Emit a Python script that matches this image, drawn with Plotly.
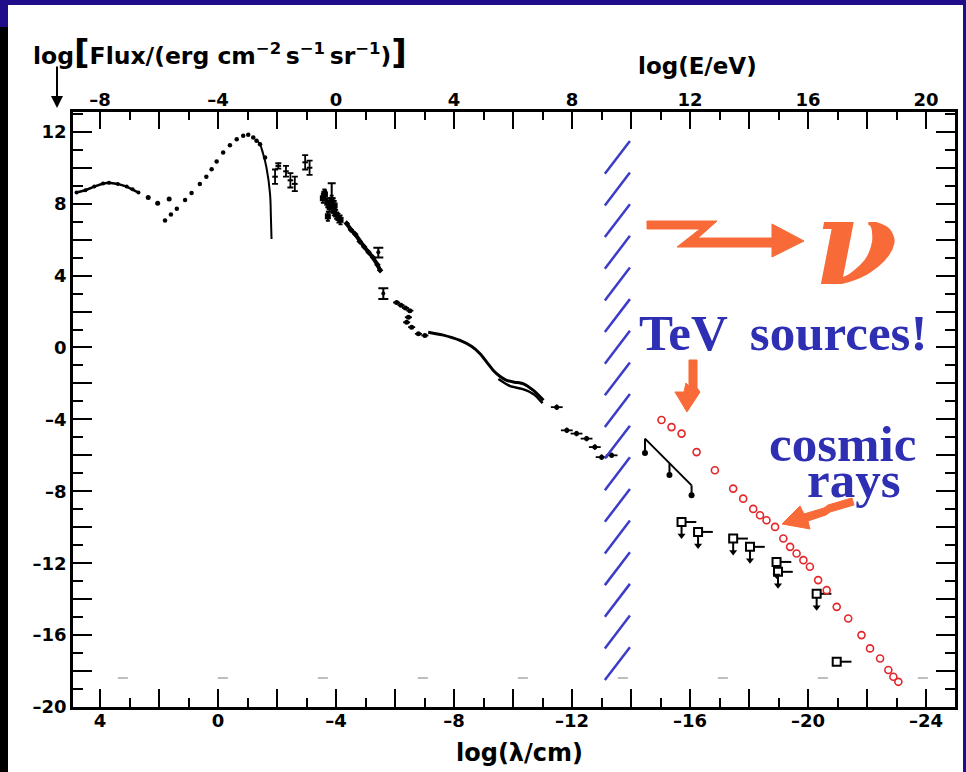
import plotly.graph_objects as go

# ---------------- data ----------------
# axis ticks
lam_major = list(range(4, -25, -2))
lam_minor = list(range(3, -24, -2))
e_major = list(range(-8, 21, 2))
e_minor = list(range(-7, 20, 2))
y_major = list(range(-20, 13, 2))
y_minor = list(range(-19, 14, 2))

# radio background
radio_lam = [4.80, 4.50, 4.20, 3.90, 3.70, 3.40, 3.10, 2.90, 2.70]
radio_y = [8.62, 8.75, 8.95, 9.12, 9.17, 9.10, 8.95, 8.80, 8.62]
radio_dot_lam = [2.37, 2.05, 1.66]
radio_dot_y = [8.35, 8.02, 8.26]

# microwave background (points + Wien tail)
cmb_lam = [1.80, 1.60, 1.40, 1.12, 0.90, 0.62, 0.40, 0.22, 0.05, -0.17, -0.40,
           -0.63, -0.85, -1.02, -1.19, -1.30, -1.42, -1.59]
cmb_y = [7.06, 7.40, 7.72, 8.20, 8.60, 9.10, 9.50, 9.92, 10.35, 10.85, 11.25,
         11.59, 11.78, 11.83, 11.68, 11.50, 11.31, 10.57]
wien_lam = [-1.30, -1.42, -1.52, -1.64, -1.76, -1.79, -1.81]
wien_y = [11.55, 11.30, 10.80, 10.00, 8.54, 7.20, 6.03]

# infrared points
ir_lam = [-1.93, -2.04, -2.30, -2.45, -2.60, -2.95, -3.10]
ir_y = [9.50, 10.10, 9.80, 9.30, 9.10, 10.30, 10.00]
ir_err = [0.40, 0.15, 0.30, 0.40, 0.40, 0.40, 0.40]

# optical cluster
opt_lam = [-3.55, -3.62, -3.70, -3.78, -3.85, -3.92, -4.00, -4.08, -4.15, -3.72, -3.95, -3.60]
opt_y = [8.30, 8.50, 8.05, 7.80, 8.20, 7.60, 7.40, 7.20, 7.10, 7.30, 7.90, 8.55]
opt_ul_lam = [-3.85]
opt_ul_y = [8.30]
opt_ul_err = [0.83]

# UV band
uv_lam = [-4.36, -4.50, -4.65, -4.80, -4.95, -5.10, -5.25, -5.40, -5.49]
uv_y = [6.90, 6.55, 6.30, 5.90, 5.60, 5.30, 5.00, 4.60, 4.30]
uv_ul_lam = [-5.43, -5.60]
uv_ul_y = [5.30, 3.00]

# soft X-ray
sx_lam = [-6.05, -6.20, -6.35, -6.50, -6.45, -6.39, -6.56, -6.79, -7.01]
sx_y = [2.50, 2.35, 2.20, 2.05, 1.68, 1.40, 1.13, 0.76, 0.67]

# X-ray band
xr_lam = [-7.12, -7.60, -8.20, -8.60, -8.88, -9.10, -9.33, -9.55, -9.78,
          -10.05, -10.35, -10.69, -11.03]
xr_y = [0.85, 0.70, 0.39, 0.05, -0.35, -0.80, -1.28, -1.60, -1.83,
        -1.93, -2.02, -2.39, -2.94]
xr2_lam = [-9.50, -9.90, -10.30, -10.70, -11.00]
xr2_y = [-1.75, -2.15, -2.30, -2.60, -3.10]

# gamma rays below the hatch
g_lam = [-11.48, -11.82, -12.15, -12.49, -12.77, -13.00, -13.34]
g_y = [-3.32, -4.61, -4.79, -5.07, -5.54, -6.10, -6.00]

# high-energy gamma line with limits
hg_lam = [-14.47, -15.30, -16.05]
hg_y = [-5.07, -6.45, -7.67]
hg_drop = [0.80, 0.65, 0.55]

# upper limits (squares)
ul_lam = [-15.71, -16.27, -17.46, -18.03, -18.93, -18.98, -20.29, -20.97]
ul_y = [-9.71, -10.26, -10.63, -11.09, -11.93, -12.48, -13.70, -17.48]
ul_drop = [0.75, 0.75, 0.75, 0.75, 0.75, 0.75, 0.75, 0.0]

# cosmic rays
cr_lam = [-15.03, -15.37, -15.71, -16.22, -16.84, -17.46, -17.80, -18.14, -18.37,
          -18.59, -18.88, -19.16, -19.39, -19.61, -19.84, -20.06, -20.34, -20.63,
          -20.97, -21.36, -21.81, -22.10, -22.44, -22.72, -22.89, -23.06]
cr_y = [-4.03, -4.43, -4.79, -5.82, -6.83, -7.85, -8.41, -8.98, -9.33,
        -9.61, -9.98, -10.63, -11.09, -11.46, -11.83, -12.20, -12.94, -13.50,
        -14.43, -15.08, -16.00, -16.74, -17.30, -17.94, -18.32, -18.60]

# hatch (opacity limit of the universe)
hatch_lam = [-13.11, -13.96]
hatch_base_y = [-18.5 + 1.76 * i for i in range(17)]
hatch_rise = 1.83

# sensitivity level (dashed)
sens_lam = [3.4, -24.98]
sens_y = -18.39

# ---------------- figure ----------------
W, H = 966, 772
ML, MR, MT, MB = 73, 11, 112, 65
PW, PH = W - ML - MR, H - MT - MB


def px(xp):
    return (xp - ML) / PW


def py(yp):
    return (H - MB - yp) / PH


BLACK = "black"
RED = "#e3262a"
ORANGE = "#f86a38"
BLUE = "#2f2fb4"
HATCH = "#3c3cc8"
NAVY = "#1f0d8a"


def lab(v):
    return str(v).replace("-", "\u2013") if v % 4 == 0 else ""


fig = go.Figure()

dot = dict(color=BLACK, size=4)

fig.add_trace(go.Scatter(x=radio_lam, y=radio_y, mode="lines+markers",
                         line=dict(color=BLACK, width=2.5), marker=dot))
fig.add_trace(go.Scatter(x=radio_dot_lam, y=radio_dot_y, mode="markers",
                         marker=dict(color=BLACK, size=5)))
fig.add_trace(go.Scatter(x=cmb_lam, y=cmb_y, mode="markers",
                         marker=dict(color=BLACK, size=4.5)))
fig.add_trace(go.Scatter(x=wien_lam, y=wien_y, mode="lines",
                         line=dict(color=BLACK, width=2, shape="spline")))
fig.add_trace(go.Scatter(x=ir_lam, y=ir_y, mode="markers",
                         marker=dict(color=BLACK, size=4, symbol="line-ew-open",
                                     line=dict(width=2, color=BLACK)),
                         error_y=dict(type="data", array=ir_err, color=BLACK,
                                      thickness=1.8, width=3)))
fig.add_trace(go.Scatter(x=opt_lam, y=opt_y, mode="markers",
                         marker=dict(color=BLACK, size=6, symbol="square"),
                         error_y=dict(type="data", array=[0.25] * len(opt_lam),
                                      color=BLACK, thickness=1.8, width=2)))
fig.add_trace(go.Scatter(x=opt_ul_lam, y=opt_ul_y, mode="markers",
                         marker=dict(color=BLACK, size=3),
                         error_y=dict(type="data", array=opt_ul_err, arrayminus=[0],
                                      symmetric=False, color=BLACK, thickness=2, width=4)))
fig.add_trace(go.Scatter(x=uv_lam, y=uv_y, mode="lines+markers",
                         line=dict(color=BLACK, width=4),
                         marker=dict(color=BLACK, size=5, symbol="diamond")))
fig.add_trace(go.Scatter(x=uv_ul_lam, y=uv_ul_y, mode="markers",
                         marker=dict(color=BLACK, size=4),
                         error_y=dict(type="data", array=[0.25, 0.3], arrayminus=[0.3, 0.3],
                                      symmetric=False, color=BLACK, thickness=2, width=5)))
fig.add_trace(go.Scatter(x=sx_lam, y=sx_y, mode="markers",
                         marker=dict(color=BLACK, size=5),
                         error_x=dict(type="data", array=[0.12] * len(sx_lam),
                                      color=BLACK, thickness=1.8, width=0)))
fig.add_trace(go.Scatter(x=xr_lam, y=xr_y, mode="lines",
                         line=dict(color=BLACK, width=3, shape="spline", smoothing=0.6)))
fig.add_trace(go.Scatter(x=xr2_lam, y=xr2_y, mode="lines",
                         line=dict(color=BLACK, width=2.5, shape="spline", smoothing=0.6)))
fig.add_trace(go.Scatter(x=g_lam, y=g_y, mode="markers",
                         marker=dict(color=BLACK, size=5),
                         error_x=dict(type="data", array=[0.2] * len(g_lam),
                                      color=BLACK, thickness=1.8, width=0),
                         error_y=dict(type="data", array=[0.15] * len(g_lam),
                                      color=BLACK, thickness=1.8, width=0)))
fig.add_trace(go.Scatter(x=hg_lam, y=hg_y, mode="lines",
                         line=dict(color=BLACK, width=2),
                         error_y=dict(type="data", array=[0] * 3, arrayminus=hg_drop,
                                      symmetric=False, color=BLACK, thickness=2, width=0)))
fig.add_trace(go.Scatter(x=hg_lam, y=[v - d for v, d in zip(hg_y, hg_drop)], mode="markers",
                         marker=dict(color=BLACK, size=6)))
fig.add_trace(go.Scatter(x=ul_lam, y=ul_y, mode="markers",
                         marker=dict(color="white", size=8, symbol="square",
                                     line=dict(color=BLACK, width=2)),
                         error_x=dict(type="data", array=[0] * len(ul_lam),
                                      arrayminus=[0.5] * len(ul_lam), symmetric=False,
                                      color=BLACK, thickness=2, width=0),
                         error_y=dict(type="data", array=[0] * len(ul_lam),
                                      arrayminus=ul_drop, symmetric=False,
                                      color=BLACK, thickness=2, width=0)))
fig.add_trace(go.Scatter(x=[l for l, d in zip(ul_lam, ul_drop) if d > 0],
                         y=[v - d for v, d in zip(ul_y, ul_drop) if d > 0],
                         mode="markers",
                         marker=dict(color=BLACK, size=7, symbol="triangle-down")))
fig.add_trace(go.Scatter(x=cr_lam, y=cr_y, mode="markers",
                         marker=dict(color="white", size=7, symbol="circle",
                                     line=dict(color=RED, width=1.6))))
# invisible trace for the energy axis
fig.add_trace(go.Scatter(x=[-8.92, 20.98], y=[-30, -30], xaxis="x2", mode="markers",
                         marker=dict(opacity=0), hoverinfo="skip"))

# hatch lines
for yb in hatch_base_y:
    fig.add_shape(type="line", x0=hatch_lam[0], y0=yb, x1=hatch_lam[1], y1=yb + hatch_rise,
                  xref="x", yref="y", line=dict(color=HATCH, width=2.5))

# dashed sensitivity line
fig.add_shape(type="line", x0=sens_lam[0], x1=sens_lam[1], y0=sens_y, y1=sens_y,
              xref="x", yref="y", line=dict(color="#bdbdbd", width=2, dash="10px,90px"),
              layer="below")

# frame decorations (slide border)
fig.add_shape(type="rect", xref="paper", yref="paper", x0=px(0), x1=px(W), y0=py(5), y1=py(0),
              fillcolor=NAVY, line_width=0)
fig.add_shape(type="rect", xref="paper", yref="paper", x0=px(0), x1=px(8), y0=py(H), y1=py(27),
              fillcolor="black", line_width=0)
fig.add_shape(type="rect", xref="paper", yref="paper", x0=px(0), x1=px(8), y0=py(27), y1=py(5),
              fillcolor=NAVY, line_width=0)
fig.add_shape(type="rect", xref="paper", yref="paper", x0=px(963), x1=px(W), y0=py(H), y1=py(0),
              fillcolor=NAVY, line_width=0)

# big orange zig-zag arrow
z_pts = [(647, 221), (717, 221), (698, 238), (772, 238), (772, 224), (804, 241),
         (772, 257), (772, 247), (677, 247), (700, 229), (647, 229)]
path = "M " + " L ".join(f"{px(a):.4f},{py(b):.4f}" for a, b in z_pts) + " Z"
fig.add_shape(type="path", path=path, xref="paper", yref="paper",
              fillcolor=ORANGE, line=dict(color=ORANGE, width=1))

# small arrow under "TeV"
s_pts = [(689, 360), (697, 360), (697, 388), (700, 392), (687, 412), (675, 392),
         (684, 392), (686, 383), (689, 386)]
path2 = "M " + " L ".join(f"{px(a):.4f},{py(b):.4f}" for a, b in s_pts) + " Z"
fig.add_shape(type="path", path=path2, xref="paper", yref="paper",
              fillcolor=ORANGE, line=dict(color=ORANGE, width=1))

# cosmic-ray arrow
c_pts = [(852, 498), (854, 505), (830, 512), (826, 515), (808, 521), (810, 529),
         (782, 524), (800, 506), (804, 514), (824, 508), (828, 505)]
path3 = "M " + " L ".join(f"{px(a):.4f},{py(b):.4f}" for a, b in c_pts) + " Z"
fig.add_shape(type="path", path=path3, xref="paper", yref="paper",
              fillcolor=ORANGE, line=dict(color=ORANGE, width=1))

ann = []


def text_at(x, y, text, font, xanchor="center"):
    ann.append(dict(x=px(x), y=py(y), xref="paper", yref="paper", xanchor=xanchor,
                    yanchor="middle", showarrow=False, text=text, font=font))


BR = "<span style='font-size:34px'>"
text_at(31, 52,
        "<b>log" + BR + "[</span>Flux/(erg cm<sup>\u22122</sup>\u2009s<sup>\u22121</sup>"
        "\u2009sr<sup>\u22121</sup>)" + BR + "]</span></b>",
        dict(family="DejaVu Sans", size=23.5, color=BLACK), xanchor="left")
ann.append(dict(x=px(57), y=py(108), xref="paper", yref="paper", showarrow=True, text="",
                ax=0, ay=-43, arrowhead=2, arrowsize=1.2, arrowwidth=2, arrowcolor=BLACK))
text_at(697, 66, "<b>log(E/eV)</b>", dict(family="DejaVu Sans", size=23, color=BLACK))
text_at(519, 753, "<b>log(\u03bb/cm)</b>", dict(family="DejaVu Sans", size=24, color=BLACK))
text_at(855, 241, "<b><i>\u03bd</i></b>", dict(family="DejaVu Serif", size=120, color=ORANGE))
text_at(783, 333, "<b>TeV \u2009sources!</b>", dict(family="Liberation Serif", size=51, color=BLUE))
text_at(842, 444, "<b>cosmic</b>", dict(family="Liberation Serif", size=51, color=BLUE))
text_at(853, 480, "<b>rays</b>", dict(family="Liberation Serif", size=51, color=BLUE))

tickfont = dict(family="DejaVu Sans", size=18, color=BLACK)

fig.update_layout(
    width=W, height=H, margin=dict(l=ML, r=MR, t=MT, b=MB, pad=0, autoexpand=False),
    paper_bgcolor="white", plot_bgcolor="white", showlegend=False,
    annotations=ann,
    xaxis=dict(range=[4.92, -24.98], tickmode="array", tickvals=lam_major,
               ticktext=[f"<b>{lab(v)}</b>" for v in lam_major],
               ticks="inside", ticklen=18, tickwidth=2.2, tickcolor=BLACK,
               minor=dict(tickmode="array", tickvals=lam_minor, ticks="inside",
                          ticklen=9, tickwidth=2.2, tickcolor=BLACK),
               showline=True, linewidth=2.5, linecolor=BLACK, showgrid=False,
               zeroline=False, tickfont=tickfont, automargin=False, ticklabelstandoff=-4),
    xaxis2=dict(overlaying="x", side="top", range=[-8.92, 20.98], tickmode="array",
                tickvals=e_major, ticktext=[f"<b>{lab(v)}</b>" for v in e_major],
                ticks="inside", ticklen=17, tickwidth=2.2, tickcolor=BLACK,
                minor=dict(tickmode="array", tickvals=e_minor, ticks="inside",
                           ticklen=8, tickwidth=2.2, tickcolor=BLACK),
                showline=True, linewidth=2.5, linecolor=BLACK, showgrid=False,
                zeroline=False, tickfont=tickfont, automargin=False, ticklabelstandoff=-4),
    yaxis=dict(range=[-20, 13.1], tickmode="array", tickvals=y_major,
               ticktext=[f"<b>{lab(v)}</b>" for v in y_major],
               ticks="inside", ticklen=19, tickwidth=2.2, tickcolor=BLACK,
               minor=dict(tickmode="array", tickvals=y_minor, ticks="inside",
                          ticklen=10, tickwidth=2.2, tickcolor=BLACK),
               showline=True, linewidth=2.5, linecolor=BLACK, mirror="ticks",
               showgrid=False, zeroline=False, tickfont=tickfont, automargin=False),
)

fig.write_html("out.html", config={"displayModeBar": False},
               post_script="document.body.style.margin='0px';")
